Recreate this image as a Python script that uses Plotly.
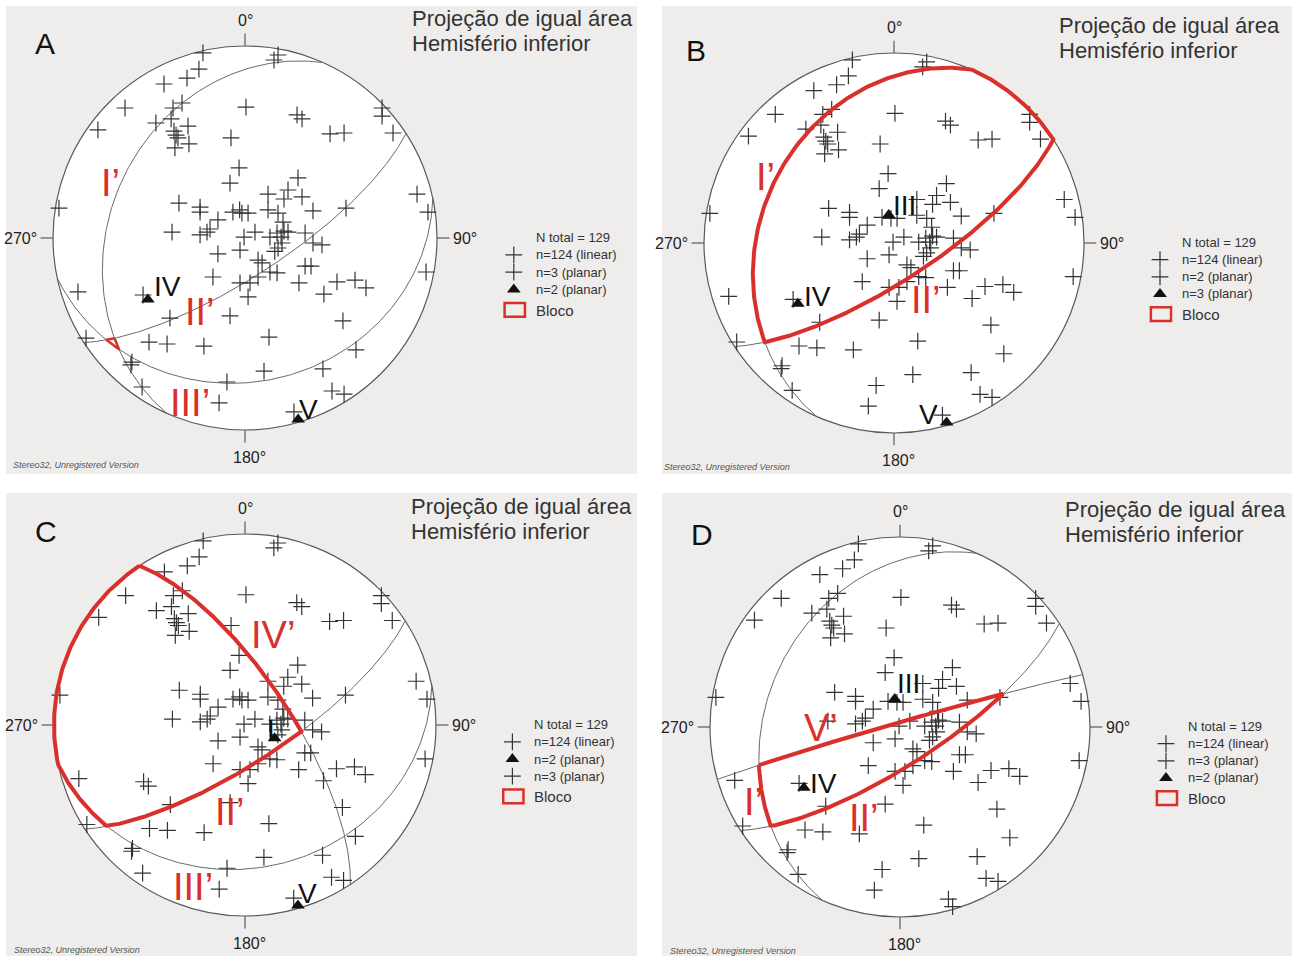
import numpy as np
import plotly.graph_objects as go

W, H = 1296, 956
PANEL_BG = "#efedec"
RED = "#d9302c"
GREY_LINE = "#6a6a6a"
FONT = "Liberation Sans, Arial, sans-serif"

# ---- linear data: equal-area net coordinates (east, north), primitive radius = 100
lin_east = [
    -21.9, -24.0, -30.2, -42.2, -62.5, -76.6, -32.8, -37.5, -38.5, -46.4,
    -29.7, -37.0, -34.9, -36.5, -29.2, -7.3, 0.5, 17.2, 15.1, 27.1,
    29.7, 44.3, 51.6, 71.4, 71.4, 77.1,
    -3.1, -7.8, -96.9, -34.4, -23.4, -23.4, -14.1, -6.3, -1.6, 1.6,
    -38.0, -23.4, -19.8, -18.2, -0.5, 89.6, 95.3, 27.6, 22.4, 20.3,
    12.0, 29.7, 12.0, 17.2, 19.8, 35.4, 52.6, 5.2, 16.7, 20.3,
    22.4, 31.3, 13.0, 18.8,
    -2.6, -14.1, -16.7, -2.6, -87.0, -53.1, 31.3, 34.4, 28.1, 41.1,
    47.9, 57.3, 63.0, 94.3, 6.8, 8.9, 2.6, 1.6, 6.8, 13.0,
    16.7, 17.2, 19.3, 35.4, 40.1,
    -39.1, -7.8, -82.8, -50.0, -40.6, -21.4, -58.9, -59.4, -53.6, -9.4,
    -13.5, 51.0, 12.5, 57.8, 9.9, 40.6, 45.3, 51.6, 25.5,
]
lin_north = [
    96.4, 88.0, 83.3, 80.2, 67.7, 56.3, 70.3, 67.7, 62.0, 59.9,
    58.3, 55.7, 52.1, 46.9, 49.0, 52.1, 68.2, 95.3, 92.7, 64.1,
    62.0, 54.2, 54.7, 67.7, 63.5, 54.7,
    36.5, 28.6, 15.6, 18.2, 16.1, 13.5, 9.4, 13.5, 13.0, 13.0,
    3.1, 1.6, 3.1, 4.7, 0.5, 22.9, 13.5, 31.3, 25.0, 20.3,
    22.9, 21.4, 14.6, 13.0, 8.3, 14.1, 15.6, 3.1, 2.6, 3.6,
    3.1, 2.6, 0.5, 0.5,
    -6.3, -8.3, -20.3, -23.4, -28.1, -29.7, -14.6, -14.6, -23.4, -29.2,
    -22.9, -21.9, -26.0, -17.7, -11.5, -13.0, -23.4, -30.7, -20.3, -17.7,
    -18.2, -5.2, -2.6, -2.6, -3.6,
    -41.7, -40.6, -52.1, -54.2, -55.2, -56.3, -64.6, -66.1, -77.6, -75.0,
    -85.9, -43.2, -51.6, -58.3, -69.3, -68.2, -79.7, -81.3, -90.6,
]

# ---- poles of the planar structures I..V (net coordinates)
pole_names = ["I", "II", "III", "IV", "V"]
pole_east = [15.5, -35.9, -2.8, -50.6, 27.7]
pole_north = [-7.0, 53.6, 14.7, -32.0, -94.5]

# ---- planes I'..V' (dip direction, dip in degrees)
plane_names = ["I’", "II’", "III’", "IV’", "V’"]
plane_dipdir = [294.0, 147.0, 168.0, 56.5, 344.0]
plane_dip = [30.0, 74.0, 26.0, 71.0, 88.0]

N_TOTAL = 129
N_LINEAR = 124


def line_vec(trend, plunge):
    t, p = np.radians(trend), np.radians(plunge)
    return np.array([np.cos(p) * np.sin(t), np.cos(p) * np.cos(t), np.sin(p)])


def basis(i):
    s = line_vec(plane_dipdir[i] - 90.0, 0.0)
    u = line_vec(plane_dipdir[i], plane_dip[i])
    return s, u


def normal(i):
    s, u = basis(i)
    return np.cross(s, u)


def project(v):
    # Schmidt (equal-area) lower hemisphere, radius 100
    k = 100.0 / np.sqrt(1.0 + v[2])
    return v[0] * k, v[1] * k


def meet(i, j):
    L = np.cross(normal(i), normal(j))
    if L[2] < 0:
        L = -L
    return L / np.linalg.norm(L)


def phi_on(i, L):
    s, u = basis(i)
    return float(np.arctan2(L @ u, L @ s))


def resolve(i, spec):
    if spec == "start":
        return 0.0
    if spec == "end":
        return np.pi
    return phi_on(i, meet(i, spec))


def gc_arc(i, a=0.0, b=np.pi, n=160):
    s, u = basis(i)
    phi = np.linspace(a, b, n)
    v = np.outer(s, np.cos(phi)) + np.outer(u, np.sin(phi))
    return project(v)


def end_azimuth(i, spec):
    return plane_dipdir[i] - 90.0 if spec == "start" else plane_dipdir[i] + 90.0


def prim_arc(a0, a1, n=80):
    d = (a1 - a0 + 180.0) % 360.0 - 180.0
    az = np.radians(np.linspace(a0, a0 + d, n))
    return 100 * np.sin(az), 100 * np.cos(az)


def block_outline(segments):
    xs, ys = [], []
    for seg in segments:
        if seg[0] == "gc":
            _, i, a, b = seg
            x, y = gc_arc(i, resolve(i, a), resolve(i, b))
        else:
            _, (i, a), (j, b) = seg
            x, y = prim_arc(end_azimuth(i, a), end_azimuth(j, b))
        xs.extend(x)
        ys.extend(y)
    xs.append(xs[0])
    ys.append(ys[0])
    return xs, ys


panels = [
    dict(letter="A", cx=245, cy=238, R=192, box=(6, 6, 637, 474),
         planes=[0, 1, 2], tri=[3, 4],
         block=[("gc", 0, 1, 2), ("gc", 2, 0, 1), ("gc", 1, 2, 0)], block_w=2.5,
         red=[("I’", -70.3, 28.6), ("II’", -23.4, -38.5), ("III’", -28.6, -85.9)],
         black=[("IV", -40.6, -25.5), ("V", 33.3, -89.1)],
         legend=["lin", "pc", "tri"]),
    dict(letter="B", cx=894, cy=243, R=190, box=(662, 6, 1292, 474),
         planes=[0, 1], tri=[2, 3, 4],
         block=[("gc", 0, "end", 1), ("gc", 1, 0, "start"), ("prim", (1, "start"), (0, "end"))],
         block_w=4,
         red=[("I’", -67.5, 34.9), ("II’", 16.6, -30.0)],
         black=[("III", 5.3, 20.0), ("IV", -40.5, -28.3), ("V", 18.3, -90.5)],
         legend=["lin", "pc", "tri"]),
    dict(letter="C", cx=245, cy=725, R=191, box=(6, 493, 637, 956),
         planes=[1, 2, 3], tri=[0, 4],
         block=[("gc", 3, "start", 1), ("gc", 1, 3, 2), ("gc", 2, 1, "end"),
                ("prim", (2, "end"), (3, "start"))],
         block_w=4,
         red=[("IV’", 14.4, 47.1), ("II’", -8.1, -45.4), ("III’", -27.4, -84.7)],
         black=[("I", 13.4, -2.6), ("V", 32.7, -88.1)],
         legend=["lin", "tri", "pc"]),
    dict(letter="D", cx=900, cy=727, R=190, box=(662, 493, 1292, 956),
         planes=[0, 1, 4], tri=[2, 3],
         block=[("gc", 4, 0, 1), ("gc", 1, 4, 0), ("gc", 0, 1, 4)], block_w=4,
         red=[("V’", -41.6, -0.7), ("I’", -77.2, -39.3), ("II’", -18.9, -48.1)],
         black=[("III", 4.7, 23.0), ("IV", -40.5, -29.6)],
         legend=["lin", "pc", "tri"]),
]

fig = go.Figure()
layout = dict(width=W, height=H, margin=dict(l=0, r=0, t=0, b=0),
              paper_bgcolor="white", plot_bgcolor=PANEL_BG, showlegend=False)
shapes, annotations = [], []

CROSS = dict(symbol="cross-thin", size=12, line=dict(width=1.2, color="#333333"), color="#333333")
TRI = dict(symbol="triangle-up", size=12, color="#111111")


def ann(xr, yr, x, y, text, size, color, xanchor="center", family=FONT, italic=False):
    annotations.append(dict(
        xref=xr, yref=yr, x=x, y=y, text=f"<i>{text}</i>" if italic else text,
        showarrow=False, xanchor=xanchor, yanchor="middle",
        font=dict(family=family, size=size, color=color)))


for k, p in enumerate(panels, start=1):
    sx = "" if k == 1 else str(k)
    xr, yr = "x" + sx, "y" + sx
    sc = p["R"] / 100.0
    x0, y0, x1, y1 = p["box"]
    layout["xaxis" + sx] = dict(domain=[x0 / W, x1 / W],
                                range=[(x0 - p["cx"]) / sc, (x1 - p["cx"]) / sc],
                                visible=False, fixedrange=True, anchor=yr)
    layout["yaxis" + sx] = dict(domain=[1 - y1 / H, 1 - y0 / H],
                                range=[(p["cy"] - y1) / sc, (p["cy"] - y0) / sc],
                                visible=False, fixedrange=True, anchor=xr)

    # primitive circle
    shapes.append(dict(type="circle", xref=xr, yref=yr, x0=-100, y0=-100, x1=100, y1=100,
                       fillcolor="white", line=dict(color="#5a5a5a", width=1.2), layer="below"))

    # N/E/S/W ticks
    tx, ty = [], []
    for az in (0, 90, 180, 270):
        a = np.radians(az)
        tx += [100 * np.sin(a), 106.5 * np.sin(a), None]
        ty += [100 * np.cos(a), 106.5 * np.cos(a), None]
    fig.add_trace(go.Scatter(x=tx, y=ty, mode="lines", xaxis=xr, yaxis=yr,
                             line=dict(color="#5a5a5a", width=1.2), hoverinfo="skip"))

    # great circles
    for i in p["planes"]:
        gx, gy = gc_arc(i)
        fig.add_trace(go.Scatter(x=gx, y=gy, mode="lines", xaxis=xr, yaxis=yr,
                                 line=dict(color=GREY_LINE, width=1), hoverinfo="skip"))

    # linear data
    fig.add_trace(go.Scatter(x=lin_east, y=lin_north, mode="markers", xaxis=xr, yaxis=yr,
                             marker=CROSS, hoverinfo="skip"))
    # planar poles drawn as crosses
    pc = [i for i in range(5) if i not in p["tri"]]
    fig.add_trace(go.Scatter(x=[pole_east[i] for i in pc], y=[pole_north[i] for i in pc],
                             mode="markers", xaxis=xr, yaxis=yr, marker=CROSS, hoverinfo="skip"))
    # planar poles drawn as triangles
    fig.add_trace(go.Scatter(x=[pole_east[i] for i in p["tri"]], y=[pole_north[i] for i in p["tri"]],
                             mode="markers", xaxis=xr, yaxis=yr, marker=TRI, hoverinfo="skip"))

    # block outline
    bx, by = block_outline(p["block"])
    fig.add_trace(go.Scatter(x=bx, y=by, mode="lines", xaxis=xr, yaxis=yr,
                             line=dict(color=RED, width=p["block_w"]), hoverinfo="skip"))

    # degree labels
    ann(xr, yr, 0, 113.5, "0°", 16, "#222")
    ann(xr, yr, 107.5, 0, "90°", 16, "#222", xanchor="left")
    ann(xr, yr, -107.5, 0, "270°", 16, "#222", xanchor="right")
    ann(xr, yr, 2.5, -114.5, "180°", 16, "#222")

    # panel letter and title
    ann(xr, yr, -104, 101.5, p["letter"], 30, "#111")
    ann(xr, yr, 86, 114.5, "Projeção de igual área", 22, "#333", xanchor="left")
    ann(xr, yr, 86, 101.5, "Hemisfério inferior", 22, "#333", xanchor="left")

    # block and pole labels
    for txt, ex, ny in p["red"]:
        ann(xr, yr, ex, ny, txt, 38, RED)
    for txt, ex, ny in p["black"]:
        ann(xr, yr, ex, ny, txt, 28, "#111")

    # legend
    rows_n = [0.5, -8.8, -17.8, -26.8, -37.5]
    ann(xr, yr, 150.5, rows_n[0], f"N total = {N_TOTAL}", 13, "#333", xanchor="left")
    n_pc, n_tri = len(pc), len(p["tri"])
    for row, kind in zip(rows_n[1:4], p["legend"]):
        if kind == "lin":
            mk, label = CROSS, f"n={N_LINEAR} (linear)"
        elif kind == "pc":
            mk, label = CROSS, f"n={n_pc} (planar)"
        else:
            mk, label = TRI, f"n={n_tri} (planar)"
        fig.add_trace(go.Scatter(x=[140], y=[row], mode="markers", xaxis=xr, yaxis=yr,
                                 marker=mk, hoverinfo="skip"))
        ann(xr, yr, 150.5, row, label, 13, "#333", xanchor="left")
    shapes.append(dict(type="rect", xref=xr, yref=yr, x0=135.2, x1=145.8, y0=-41.0, y1=-33.8,
                       line=dict(color=RED, width=2.5), fillcolor="rgba(0,0,0,0)"))
    ann(xr, yr, 150.5, rows_n[4], "Bloco", 15, "#333", xanchor="left")

    ann(xr, yr, -122, -118, "Stereo32, Unregistered Version", 9, "#555", xanchor="left", italic=True)

layout["shapes"] = shapes
layout["annotations"] = annotations
fig.update_layout(**layout)
fig.write_html("out.html")
